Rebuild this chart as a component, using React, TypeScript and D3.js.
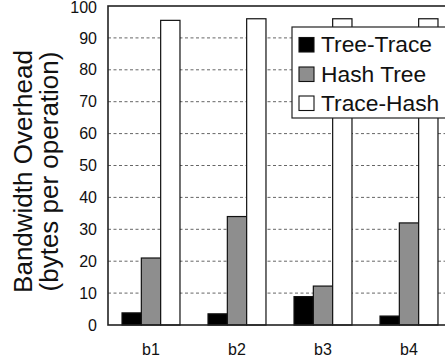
import React, { useEffect, useRef } from 'react';
import * as d3 from 'd3';

const benchmarks = ['b1', 'b2', 'b3', 'b4'];
const seriesNames = ['Tree-Trace', 'Hash Tree', 'Trace-Hash'];
const treeTrace = [3.8, 3.5, 8.9, 2.8];
const hashTree = [21, 34, 12.2, 32];
const traceHash = [95.5, 96, 96, 96];
const yTicks = [0, 10, 20, 30, 40, 50, 60, 70, 80, 90, 100];
const seriesFill = ['#000000', '#8e8e8e', '#ffffff'];

const App = () => {
  const svgRef = useRef<SVGSVGElement>(null);
  const width = 445;
  const height = 364;

  useEffect(() => {
    const svg = d3.select(svgRef.current);
    svg.selectAll('*').remove();

    const left = 108;
    const top = 6;
    const bottom = 325;
    const right = 452; // frame runs off the right edge like the original

    const x = d3.scaleBand<string>()
      .domain(benchmarks)
      .range([left, right])
      .paddingInner(0.326)
      .paddingOuter(0.163);

    const xSub = d3.scaleBand<string>()
      .domain(seriesNames)
      .range([0, x.bandwidth()])
      .padding(0);

    const y = d3.scaleLinear().domain([0, 100]).range([bottom, top]);

    const font = "'Liberation Sans', Arial, Helvetica, sans-serif";

    // dashed grid lines
    svg.append('g')
      .selectAll('line')
      .data(yTicks.filter(t => t > 0 && t < 100))
      .join('line')
      .attr('x1', left)
      .attr('x2', right)
      .attr('y1', d => y(d))
      .attr('y2', d => y(d))
      .attr('stroke', '#555')
      .attr('stroke-width', 0.9)
      .attr('stroke-dasharray', '3,2.5');

    // bars
    const series = [treeTrace, hashTree, traceHash];
    series.forEach((vals, si) => {
      svg.append('g')
        .selectAll('rect')
        .data(vals)
        .join('rect')
        .attr('x', (d, i) => (x(benchmarks[i]) ?? 0) + (xSub(seriesNames[si]) ?? 0))
        .attr('y', d => y(d))
        .attr('width', xSub.bandwidth())
        .attr('height', d => bottom - y(d))
        .attr('fill', seriesFill[si])
        .attr('stroke', '#111')
        .attr('stroke-width', 1.2);
    });

    // frame
    svg.append('rect')
      .attr('x', left)
      .attr('y', top)
      .attr('width', right - left)
      .attr('height', bottom - top)
      .attr('fill', 'none')
      .attr('stroke', '#222')
      .attr('stroke-width', 1.6);

    // y tick labels
    svg.append('g')
      .selectAll('text')
      .data(yTicks)
      .join('text')
      .attr('x', 97)
      .attr('y', d => Math.max(y(d), 7))
      .attr('dy', '0.35em')
      .attr('text-anchor', 'end')
      .attr('font-family', font)
      .attr('font-size', 16)
      .attr('fill', '#111')
      .text(d => d);

    // x labels
    svg.append('g')
      .selectAll('text')
      .data(benchmarks)
      .join('text')
      .attr('x', d => (x(d) ?? 0) + x.bandwidth() / 2)
      .attr('y', 355)
      .attr('text-anchor', 'middle')
      .attr('font-family', font)
      .attr('font-size', 16)
      .attr('fill', '#111')
      .text(d => d);

    // y axis title, two lines
    const titleY = 171.5;
    [['Bandwidth Overhead', 32], ['(bytes per operation)', 58]].forEach(([t, bx]) => {
      svg.append('text')
        .attr('transform', `translate(${bx},${titleY}) rotate(-90)`)
        .attr('text-anchor', 'middle')
        .attr('font-family', font)
        .attr('font-size', 26)
        .attr('fill', '#111')
        .text(t as string);
    });

    // legend
    const legend = svg.append('g');
    legend.append('rect')
      .attr('x', 292)
      .attr('y', 27)
      .attr('width', 160)
      .attr('height', 91)
      .attr('fill', '#fff')
      .attr('stroke', '#222')
      .attr('stroke-width', 1.2);

    const rowBase = [52, 81.5, 110.5];
    seriesNames.forEach((name, i) => {
      legend.append('rect')
        .attr('x', 299)
        .attr('y', rowBase[i] - 14.5)
        .attr('width', 15)
        .attr('height', 14.5)
        .attr('fill', seriesFill[i])
        .attr('stroke', '#111')
        .attr('stroke-width', 1.1);
      legend.append('text')
        .attr('x', 321)
        .attr('y', rowBase[i])
        .attr('font-family', font)
        .attr('font-size', 22.8)
        .attr('fill', '#111')
        .text(name);
    });
  }, []);

  return (
    <svg
      ref={svgRef}
      width={width}
      height={height}
      style={{ position: 'absolute', left: 0, top: 0, background: '#fff', overflow: 'hidden' }}
    />
  );
};

export default App;
